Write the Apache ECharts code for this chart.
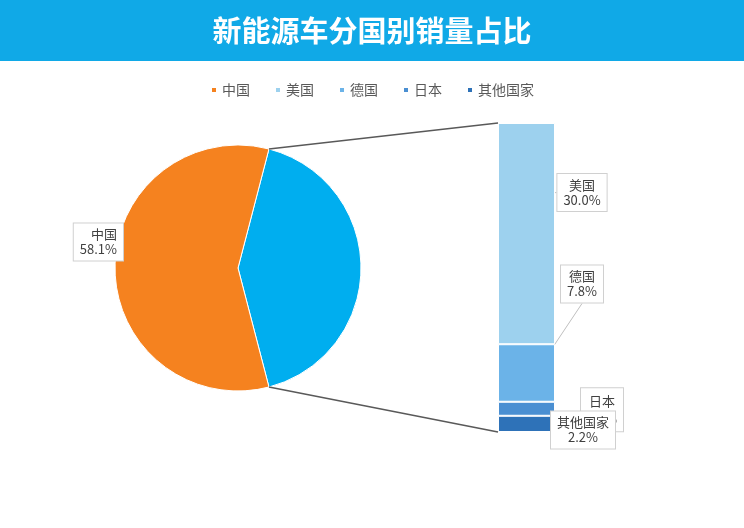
<!DOCTYPE html>
<html><head><meta charset="utf-8">
<script src="https://cdn.jsdelivr.net/npm/echarts@6/dist/echarts.min.js"></script>
<style>html,body{margin:0;padding:0;background:#fff}#c{width:744px;height:528px}</style>
</head><body><div id="c"></div>
<script>
// ---- data ----
const titleText = '新能源车分国别销量占比';
const mainName = '中国';
const mainShare = 58.1;
const restName = '其他';
const barNames = ['美国', '德国', '日本', '其他国家'];
const barValues = [30.0, 7.8, 1.9, 2.2];
const legendNames = ['中国', '美国', '德国', '日本', '其他国家'];

// ---- styles / layout ----
const pieCenter = [238, 268];
const pieRadius = 123;
const barGrid = { left: 498, top: 123, width: 57, height: 309 };
const barColors = { '美国': '#9DD1EE', '德国': '#6BB3E8', '日本': '#4A8FD2', '其他国家': '#2E72B8' };
const labelOffsets = {
  '美国': { distance: 2, dx: 25, dy: -41, line: true, lh: 15 },
  '德国': { distance: 5, dx: 22, dy: -89, line: true, lh: 15 },
  '日本': { distance: 0, dx: 47, dy: 1, line: false, lh: 18 },
  '其他国家': { distance: 0, dx: 28, dy: 6, line: false, lh: 15 }
};
const boxLabel = {
  color: '#404040', fontSize: 13, lineHeight: 15,
  backgroundColor: '#fff', borderColor: '#d0d0d0', borderWidth: 1, padding: [4, 6, 3, 6], align: 'center'
};

const restSum = barValues.reduce((a, b) => a + b, 0);
const halfAngle = restSum / (restSum + mainShare) * 360 / 2;
const fmt = (n, v) => n + '\n' + Number(v).toFixed(1) + '%';

const chart = echarts.init(document.getElementById('c'));

const barSeries = barNames.slice().reverse().map((name) => {
  const i = barNames.indexOf(name);
  const o = labelOffsets[name];
  return {
    type: 'bar', name: name, stack: 'rest', barWidth: '100%',
    z: name === '其他国家' ? 6 : 3,
    data: [barValues[i]],
    itemStyle: { color: barColors[name], borderColor: '#fff', borderWidth: 1 },
    label: Object.assign({ show: true, position: 'right', distance: o.distance,
      formatter: (p) => fmt(p.seriesName, p.value) }, boxLabel, { lineHeight: o.lh }),
    labelLayout: { dx: o.dx, dy: o.dy },
    labelLine: { show: o.line, smooth: 0.3, lineStyle: { color: '#bfbfbf', width: 1 } },
    emphasis: { disabled: true }
  };
});

chart.setOption({
  animation: false,
  textStyle: { fontFamily: 'Noto Sans CJK SC' },
  title: {
    text: titleText, left: 'center', top: 11, z: 10,
    textStyle: { color: '#fff', fontSize: 29, fontWeight: 'bold', fontFamily: 'Noto Sans CJK SC' }
  },
  legend: {
    data: legendNames, top: 78, left: 'center', icon: 'rect',
    itemWidth: 6, itemHeight: 6, itemGap: 24,
    textStyle: { fontSize: 14, color: '#595959' }
  },
  grid: Object.assign({ containLabel: false }, barGrid),
  xAxis: { type: 'category', data: [''], show: false },
  yAxis: { type: 'value', min: 0, max: restSum, show: false },
  series: [
    {
      type: 'pie', center: pieCenter, radius: pieRadius,
      startAngle: halfAngle, clockwise: true,
      emphasis: { disabled: true },
      itemStyle: { borderColor: '#fff', borderWidth: 1 },
      data: [
        { name: restName, value: restSum, itemStyle: { color: '#00AEEF' }, label: { show: false }, labelLine: { show: false } },
        { name: mainName, value: mainShare, itemStyle: { color: '#F5821F' } }
      ],
      label: Object.assign({ show: true, position: 'outside',
        formatter: (p) => fmt(p.name, p.value) }, boxLabel),
      labelLine: { show: false, length: 4, length2: 0 },
      labelLayout: { dx: 8.5, dy: -13 }
    }
  ].concat(barSeries)
});

// connector lines between pie split and bar edges
const topPx = chart.convertToPixel({ gridIndex: 0 }, [0, restSum]);
const botPx = chart.convertToPixel({ gridIndex: 0 }, [0, 0]);
const barLeftX = topPx[0] - barGrid.width / 2;
const a = halfAngle * Math.PI / 180;
const p1 = [pieCenter[0] + pieRadius * Math.cos(a), pieCenter[1] - pieRadius * Math.sin(a)];
const p2 = [pieCenter[0] + pieRadius * Math.cos(a), pieCenter[1] + pieRadius * Math.sin(a)];

chart.setOption({
  graphic: [
    { type: 'rect', id: 'hdr', left: 0, top: 0, z: 0, shape: { width: 744, height: 61 }, style: { fill: '#10A9E7' } },
    { type: 'line', id: 'l1', z: 5, shape: { x1: p1[0], y1: p1[1], x2: barLeftX, y2: topPx[1] }, style: { stroke: '#595959', lineWidth: 1.5 } },
    { type: 'line', id: 'l2', z: 5, shape: { x1: p2[0], y1: p2[1], x2: barLeftX, y2: botPx[1] }, style: { stroke: '#595959', lineWidth: 1.5 } }
  ]
});
</script>
</body></html>
